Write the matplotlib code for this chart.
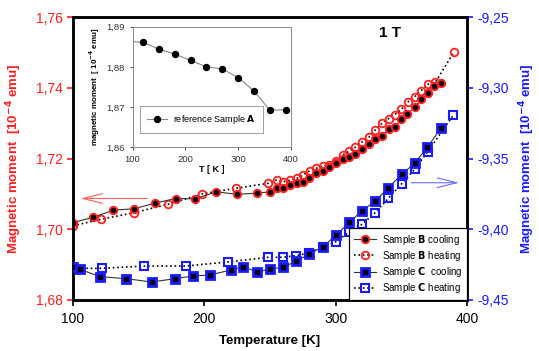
import matplotlib
matplotlib.use("Agg")
import matplotlib.pyplot as plt
import numpy as np

plt.rcParams['font.family'] = ['Liberation Sans', 'DejaVu Sans']

# Sample B (left axis)
t_b_cool = [100, 115.5, 130.7, 146.7, 162.5, 178.2, 193.1, 208.9, 224.7, 240.4, 250, 255.6,
            260.2, 265.3, 270.4, 275.4, 280, 285, 290.2, 295.2, 300.3, 305.4, 310.4, 315,
            320.1, 325.2, 330.2, 335.3, 340.4, 345, 350, 354.6, 360.2, 365.3, 370.3, 374.9, 380.2]
m_b_cool = [1.7019, 1.7034, 1.7054, 1.7058, 1.7074, 1.7087, 1.7086, 1.7106, 1.7099, 1.7102,
            1.7106, 1.7116, 1.7116, 1.7125, 1.7130, 1.7134, 1.7146, 1.7158, 1.7166, 1.7177,
            1.7188, 1.7199, 1.7203, 1.7213, 1.7226, 1.7240, 1.7254, 1.7264, 1.7283, 1.7290,
            1.7311, 1.7326, 1.7346, 1.7367, 1.7384, 1.7405, 1.7415]
t_b_heat = [100, 121.1, 146.7, 172.6, 198.2, 224.1, 248.7, 255.1, 260.2, 265.3, 270.4, 275.2,
            280.5, 285.1, 290.2, 295.2, 300.3, 305.4, 310.4, 315, 320.1, 325.2, 330.2, 335.3,
            340.4, 345, 350, 355.1, 360.2, 364.8, 370.3, 376, 390.2]
m_b_heat = [1.7010, 1.7028, 1.7047, 1.7071, 1.7100, 1.7116, 1.7130, 1.7139, 1.7134, 1.7139,
            1.7144, 1.7153, 1.7166, 1.7172, 1.7179, 1.7182, 1.7193, 1.7210, 1.7221, 1.7232,
            1.7247, 1.7260, 1.7281, 1.7300, 1.7313, 1.7324, 1.7339, 1.7360, 1.7375, 1.7391,
            1.7410, 1.7416, 1.7502]

# Sample C (right axis)
t_c_cool = [100, 105.3, 120.6, 140.4, 159.9, 177.7, 191.6, 204.3, 220.1, 229.7, 240.4, 250,
            259.7, 269.8, 279.7, 290.2, 300.3, 310.4, 319.9, 330.2, 339.9, 350.3, 360.2, 369.8, 380]
m_c_cool = [-9.4265, -9.4283, -9.4335, -9.4349, -9.4373, -9.4349, -9.4330, -9.4323, -9.4288,
            -9.4265, -9.4302, -9.4281, -9.4269, -9.4227, -9.4175, -9.4125, -9.4041, -9.3951,
            -9.3871, -9.3800, -9.3708, -9.3612, -9.3532, -9.3421, -9.3287]
t_c_heat = [100, 121.9, 154.1, 185.8, 218.3, 248.7, 260.2, 269.8, 279.9, 290.2, 300.3, 310.4,
            319.9, 330.2, 340.1, 350.3, 360.2, 370.1, 389.6]
m_c_heat = [-9.4276, -9.4276, -9.4260, -9.4260, -9.4231, -9.4198, -9.4198, -9.4186, -9.4168,
            -9.4125, -9.4087, -9.4019, -9.3966, -9.3882, -9.3781, -9.3678, -9.3574, -9.3452, -9.3193]

# reference sample A (inset)
t_a = [100, 120, 150, 180, 210, 240, 270, 300, 330, 360, 390]
m_a = [1.8863, 1.8861, 1.8844, 1.8832, 1.8816, 1.8800, 1.8795, 1.8773, 1.8740, 1.8692, 1.8693]

RED = '#ff2020'
BLUE = '#1a1aff'

fig = plt.figure(figsize=(5.39, 3.51), dpi=100)
ax = fig.add_axes([0.1354, 0.1453, 0.731, 0.806])
ax2 = ax.twinx()

l1, = ax.plot(t_b_cool, m_b_cool, '-', color='#333333', lw=0.8, marker='o', ms=5.3,
              mfc='black', mec=RED, mew=1.4, label=r'Sample $\bf{B}$ cooling', zorder=3)
l2, = ax.plot(t_b_heat, m_b_heat, ':', color='black', lw=1.2, marker='o', ms=5.5,
              mfc='none', mec=RED, mew=1.3, label=r'Sample $\bf{B}$ heating', zorder=2)
l3, = ax2.plot(t_c_cool, m_c_cool, '-', color='#333333', lw=0.8, marker='s', ms=5.6,
               mfc='black', mec=BLUE, mew=2.0, label=r'Sample $\bf{C}$  cooling', zorder=3)
l4, = ax2.plot(t_c_heat, m_c_heat, ':', color='black', lw=1.2, marker='s', ms=5.2,
               mfc='none', mec=BLUE, mew=1.5, label=r'Sample $\bf{C}$ heating', zorder=2)

ax.set_xlim(100, 400)
ax.set_ylim(1.68, 1.76)
ax2.set_ylim(-9.45, -9.25)
ax.set_xticks([100, 200, 300, 400])
ax.set_yticks([1.68, 1.70, 1.72, 1.74, 1.76])
ax2.set_yticks([-9.45, -9.40, -9.35, -9.30, -9.25])
ax.set_yticklabels([f'{v:.2f}'.replace('.', ',') for v in [1.68, 1.70, 1.72, 1.74, 1.76]])
ax2.set_yticklabels([f'{v:.2f}'.replace('.', ',') for v in [-9.45, -9.40, -9.35, -9.30, -9.25]])

ax.tick_params(axis='x', labelsize=10, direction='out', length=4, width=1.2, pad=5)
ax.tick_params(axis='y', labelsize=10, colors=RED, direction='out', length=4, width=1.2)
ax2.tick_params(axis='y', labelsize=10, colors=BLUE, direction='out', length=4, width=1.2)
for a in (ax, ax2):
    for s in a.spines.values():
        s.set_linewidth(1.8)
        s.set_color('black')

ax.set_xlabel('Temperature [K]', fontsize=9.5, fontweight='bold', labelpad=6)
ax.set_ylabel(r'Magnetic moment  [10$^{\mathbf{-4}}$ emu]', fontsize=9.5, fontweight='bold',
              color=RED, labelpad=8)
ax2.set_ylabel(r'Magnetic moment  [10$^{\mathbf{-4}}$ emu]', fontsize=9.5, fontweight='bold',
               color=BLUE, labelpad=6)

ax.text(341, 1.7555, '1 T', fontsize=11, fontweight='bold', ha='center', va='center')

ax.annotate('', xy=(103.8, 1.7087), xytext=(158.6, 1.7087),
            arrowprops=dict(arrowstyle='->,head_length=1.4,head_width=0.35', color='#ff6060', lw=0.8))
ax2.annotate('', xy=(396, -9.3671), xytext=(355.4, -9.3671),
             arrowprops=dict(arrowstyle='->,head_length=1.4,head_width=0.35', color='#6a6aff', lw=0.8))

leg = ax2.legend(handles=[l1, l2, l3, l4], loc='lower right', fontsize=7, frameon=True,
                 fancybox=False, edgecolor='black', borderaxespad=0, handlelength=2.2,
                 labelspacing=0.22, borderpad=0.5, handletextpad=0.6)
leg.get_frame().set_linewidth(0.9)
leg.get_frame().set_alpha(1)

# inset
ins = fig.add_axes([0.246, 0.581, 0.2937, 0.3427])
ins.plot(t_a, m_a, '-', color='#888888', lw=0.8, marker='o', ms=4.3, mfc='black', mec='black',
         markevery=list(range(1, len(t_a))), label=r'reference Sample $\bf{A}$')
ins.set_xlim(100, 400)
ins.set_ylim(1.86, 1.89)
ins.set_xticks([100, 200, 300, 400])
ins.set_yticks([1.86, 1.87, 1.88, 1.89])
ins.set_yticklabels([f'{v:.2f}'.replace('.', ',') for v in [1.86, 1.87, 1.88, 1.89]])
ins.tick_params(labelsize=6.8, colors='#333333', length=2, width=0.6, direction='out')
for s in ins.spines.values():
    s.set_linewidth(0.7)
    s.set_color('#888888')
ins.set_xlabel('T [ K ]', fontsize=6.5, fontweight='bold', labelpad=1)
ins.set_ylabel(r'magnetic moment  [ 10$^{\mathbf{-4}}$ emu]', fontsize=5.8, fontweight='bold', labelpad=3)
il = ins.legend(loc='lower left', bbox_to_anchor=(0.045, 0.115), fontsize=6.5, fancybox=False,
                edgecolor='#888888', handlelength=2.2, borderpad=0.8, borderaxespad=0,
                handletextpad=0.7)
il.get_frame().set_linewidth(0.7)

fig.savefig('out.png', dpi=100)
